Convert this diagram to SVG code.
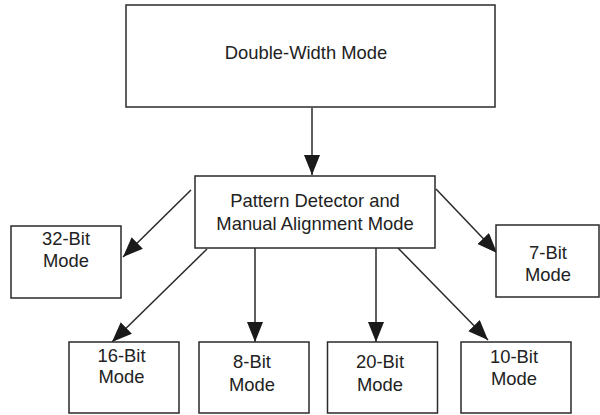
<svg xmlns="http://www.w3.org/2000/svg" width="600" height="415" viewBox="0 0 600 415">
<style>
.box{fill:#fff;stroke:#2a2a2a;stroke-width:1.5}
.t{font-family:"Liberation Sans",Arial,sans-serif;font-size:18.4px;fill:#222;text-anchor:middle}
.c{stroke:#2a2a2a;stroke-width:1.5;fill:none;marker-end:url(#ah)}
</style>
<defs>
<marker id="ah" markerUnits="userSpaceOnUse" markerWidth="22" markerHeight="16" refX="20" refY="8" orient="auto">
<path d="M0,0 L20,8 L0,16 Z" fill="#1a1a1a"/>
</marker>
</defs>
<rect width="600" height="415" fill="#fff"/>
<g id="connectors">
<line class="c" x1="312" y1="108" x2="312" y2="175"/>
<line class="c" x1="191" y1="190" x2="123" y2="257"/>
<line class="c" x1="207" y1="249" x2="112" y2="342"/>
<line class="c" x1="255" y1="248" x2="255" y2="342"/>
<line class="c" x1="376" y1="248" x2="376" y2="342"/>
<line class="c" x1="398" y1="248" x2="488" y2="340"/>
<line class="c" x1="436" y1="189" x2="497" y2="253"/>
</g>
<g id="double-width">
<rect class="box" x="126" y="5" width="369" height="102"/>
<text class="t" x="306" y="59">Double-Width Mode</text>
</g>
<g id="pattern-detector">
<rect class="box" x="195" y="176" width="240" height="72"/>
<text class="t" x="315" y="207">Pattern Detector and</text>
<text class="t" x="315" y="230">Manual Alignment Mode</text>
</g>
<g id="bit32">
<rect class="box" x="11" y="226" width="110" height="72"/>
<text class="t" x="66" y="245">32-Bit</text>
<text class="t" x="66" y="267">Mode</text>
</g>
<g id="bit7">
<rect class="box" x="496" y="225" width="103" height="72"/>
<text class="t" x="548" y="259">7-Bit</text>
<text class="t" x="548" y="281">Mode</text>
</g>
<g id="bit16">
<rect class="box" x="69" y="342" width="110" height="71"/>
<text class="t" x="121.5" y="362">16-Bit</text>
<text class="t" x="121.5" y="383">Mode</text>
</g>
<g id="bit8">
<rect class="box" x="199" y="342" width="110" height="71"/>
<text class="t" x="252" y="368">8-Bit</text>
<text class="t" x="252" y="391">Mode</text>
</g>
<g id="bit20">
<rect class="box" x="327.5" y="342" width="110" height="71"/>
<text class="t" x="380" y="368">20-Bit</text>
<text class="t" x="380" y="391">Mode</text>
</g>
<g id="bit10">
<rect class="box" x="461" y="342" width="110" height="71"/>
<text class="t" x="514" y="363">10-Bit</text>
<text class="t" x="514" y="385">Mode</text>
</g>
</svg>
